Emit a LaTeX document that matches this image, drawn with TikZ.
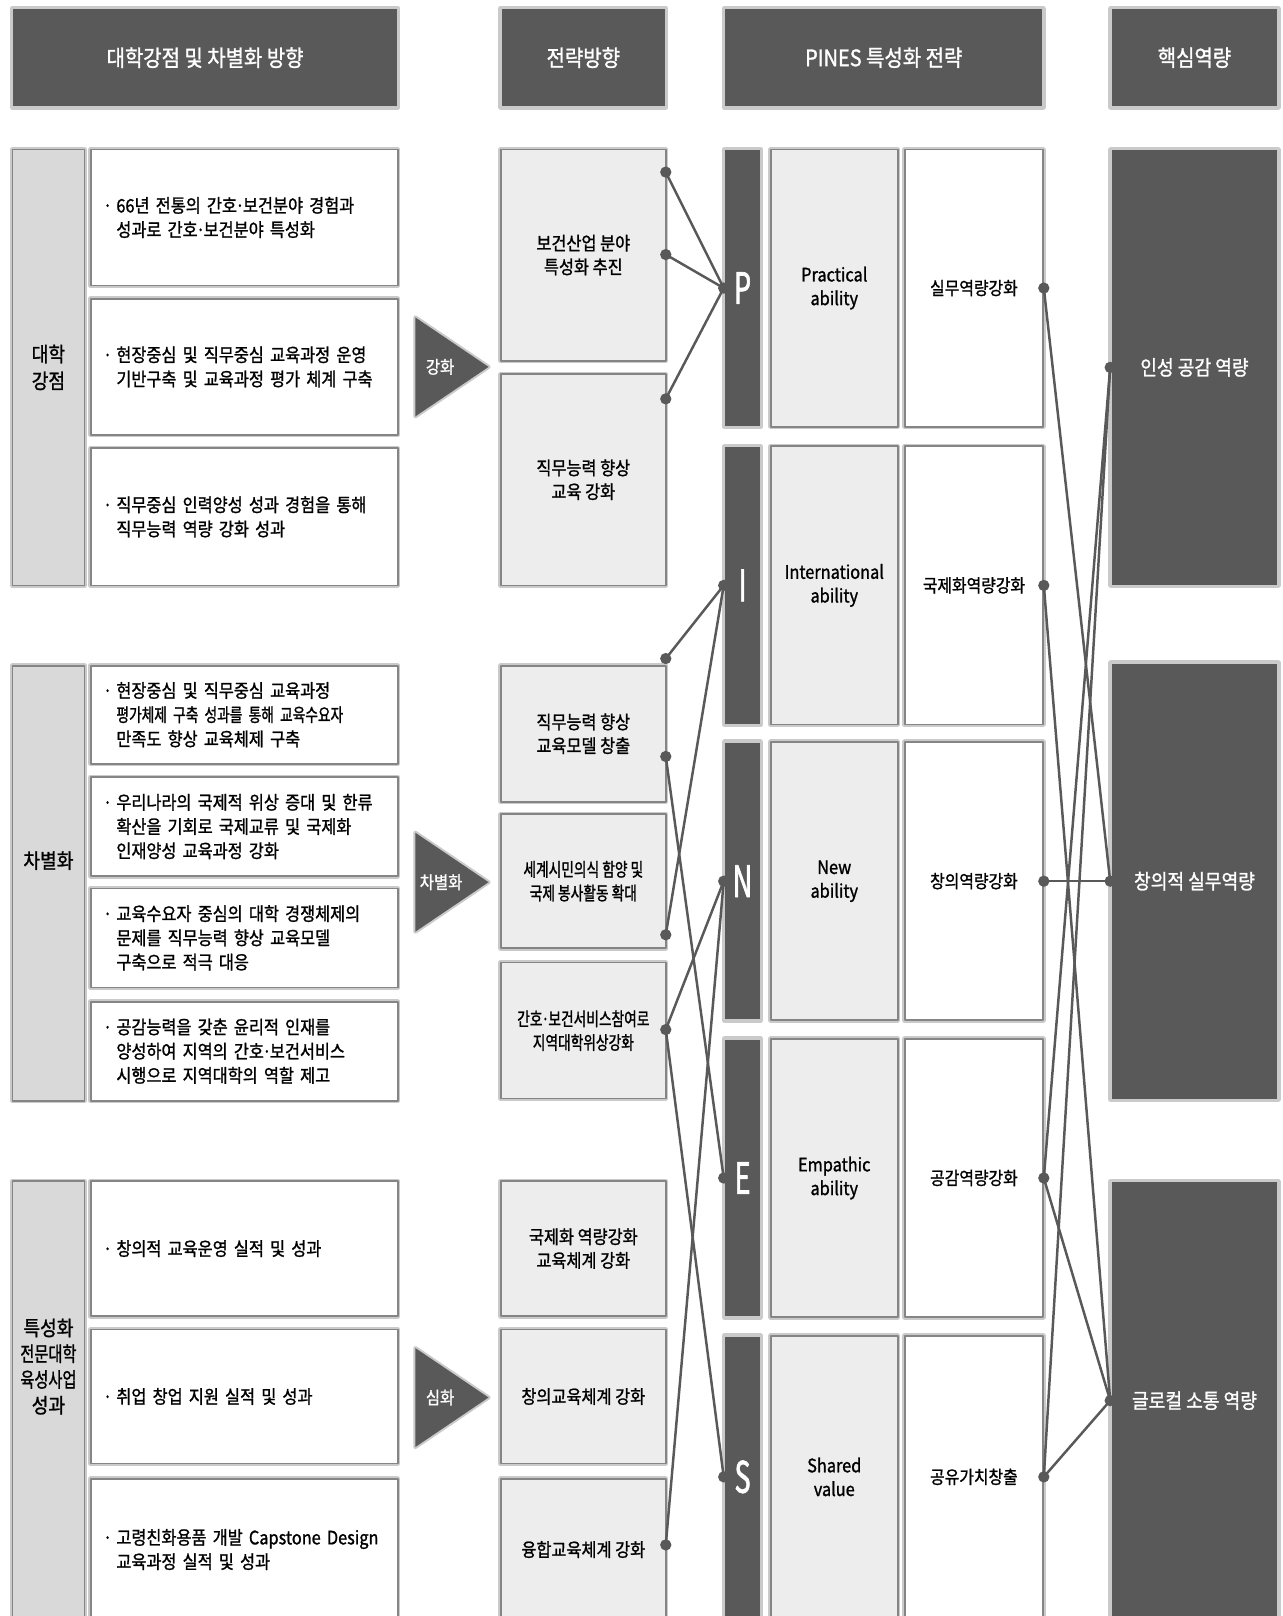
\documentclass[tikz,border=0pt]{standalone}
\usepackage{fontspec}
\newfontfamily\kr[FakeStretch=0.88,FakeBold=1.2]{Noto Sans CJK KR}
\newfontfamily\krn[FakeStretch=0.74,FakeBold=1.2]{Noto Sans CJK KR}
\newfontfamily\krl[FakeStretch=0.62,FakeBold=1.5]{Noto Sans CJK KR}
\definecolor{dark}{HTML}{595959}
\definecolor{pale}{HTML}{EDEDED}
\definecolor{catfill}{HTML}{D9D9D9}
\definecolor{edge}{HTML}{858585}
\definecolor{halo}{HTML}{CACACA}
\newcommand{\bul}{\makebox[0.72em][l]{·}}
\newcommand{\cont}{\hspace*{0.72em}}
\newcommand{\md}{\makebox[0.32em]{·}}

\begin{document}
\begin{tikzpicture}[x=1pt,y=-1pt,line join=round,
  boxline/.style={draw=edge,line width=1.6,preaction={draw=halo,line width=5}},
  hdr/.style={boxline,draw=halo,fill=dark,text=white,minimum height=96,font=\kr\fontsize{22}{26}\selectfont},
  cat/.style={boxline,fill=catfill,minimum width=70,align=center,font=\kr\fontsize{20}{26}\selectfont},
  cattext/.style={align=center,font=\kr\fontsize{20}{25}\selectfont},
  desc/.style={boxline,fill=white,minimum width=298,text width=274,inner xsep=12,align=left,font=\kr\fontsize{18}{23.5}\selectfont},
  strat/.style={boxline,fill=pale,minimum width=160,align=center,font=\kr\fontsize{18}{23}\selectfont},
  squeezed/.style={font=\krn\fontsize{18}{23}\selectfont},
  letter/.style={boxline,draw=halo,fill=dark,text=white,minimum width=35,font=\krl\fontsize{42}{42}\selectfont},
  able/.style={boxline,fill=pale,minimum width=123,align=center,font=\kr\fontsize{18}{23}\selectfont},
  gist/.style={boxline,fill=white,minimum width=134,font=\kr\fontsize{17.5}{22}\selectfont},
  core/.style={boxline,draw=halo,fill=dark,text=white,minimum width=162,font=\kr\fontsize{20}{24}\selectfont},
  wedge/.style={fill=dark,preaction={draw=halo,line width=4}},
  wedgetext/.style={text=white,font=\kr\fontsize{17}{20}\selectfont},
  link/.style={draw=dark,line width=2.4}]
  \useasboundingbox (0,0) rectangle (1244,1568);
  % column heads
  \node[hdr,minimum width=374] (hd1) at (199,56) {대학강점 및 차별화 방향};
  \node[hdr,minimum width=160] (hd2) at (566,56) {전략방향};
  \node[hdr,minimum width=309] (hd3) at (857.5,56) {PINES 특성화 전략};
  \node[hdr,minimum width=162] (hd4) at (1159,56) {핵심역량};
  % left side bars
  \node[cat,minimum height=423] (cat1) at (47,356.5) {대학\\강점};
  \node[cat,minimum height=422,label={[cattext,yshift=22pt]center:차별화}] (cat2) at (47,857) {};
  \node[cat,minimum height=426,label={[cattext,yshift=33pt]center:특성화\\{\krn 전문대학}\\{\krn 육성사업}\\성과}] (cat3) at (47,1359) {};
  % strengths
  \node[desc,minimum height=132] (d1) at (237,211) {\bul 66년 전통의 간호\md 보건분야 경험과\\\cont 성과로 간호\md 보건분야 특성화};
  \node[desc,minimum height=132] (d2) at (237,356) {\bul 현장중심 및 직무중심 교육과정 운영\\\cont 기반구축 및 교육과정 평가 체계 구축};
  \node[desc,minimum height=133] (d3) at (237,501.5) {\bul 직무중심 인력양성 성과 경험을 통해\\\cont 직무능력 역량 강화 성과};
  \node[desc,minimum height=95] (d4) at (237,693.5) {\bul 현장중심 및 직무중심 교육과정\\\cont{\krn 평가체제 구축 성과를 통해 교육수요자}\\\cont 만족도 향상 교육체제 구축};
  \node[desc,minimum height=96] (d5) at (237,802) {\bul 우리나라의 국제적 위상 증대 및 한류\\\cont 확산을 기회로 국제교류 및 국제화\\\cont 인재양성 교육과정 강화};
  \node[desc,minimum height=96] (d6) at (237,910) {\bul 교육수요자 중심의 대학 경쟁체제의\\\cont 문제를 직무능력 향상 교육모델\\\cont 구축으로 적극 대응};
  \node[desc,minimum height=96] (d7) at (237,1020) {\bul 공감능력을 갖춘 윤리적 인재를\\\cont 양성하여 지역의 간호\md 보건서비스\\\cont 시행으로 지역대학의 역할 제고};
  \node[desc,minimum height=131] (d8) at (237,1211.5) {\bul 창의적 교육운영 실적 및 성과};
  \node[desc,minimum height=130] (d9) at (237,1355) {\bul 취업 창업 지원 실적 및 성과};
  \node[desc,minimum height=137] (d10) at (237,1503.5) {\bul 고령친화용품 개발 Capstone Design\\\cont 교육과정 실적 및 성과};
  % wedges
  \fill[wedge] (403,308) -- (474,356) -- (403,404) -- cycle; \node[wedgetext] (w1) at (427,356) {강화};
  \fill[wedge] (403,808) -- (474,856) -- (403,904) -- cycle; \node[wedgetext] (w2) at (428,856) {차별화};
  \fill[wedge] (403,1308) -- (474,1356) -- (403,1404) -- cycle; \node[wedgetext] (w3) at (427,1356) {심화};
  % strategy directions
  \node[strat,minimum height=205] (s1) at (566,247.5) {보건산업 분야\\특성화 추진};
  \node[strat,minimum height=205] (s2) at (566,465.5) {직무능력 향상\\교육 강화};
  \node[strat,minimum height=132] (s3) at (566,712) {직무능력 향상\\교육모델 창출};
  \node[strat,squeezed,minimum height=130] (s4) at (566,855) {세계시민의식 함양 및\\국제 봉사활동 확대};
  \node[strat,squeezed,minimum height=132] (s5) at (566,1000) {간호\md 보건서비스참여로\\지역대학위상강화};
  \node[strat,minimum height=131] (s6) at (566,1211.5) {국제화 역량강화\\교육체계 강화};
  \node[strat,minimum height=130] (s7) at (566,1355) {창의교육체계 강화};
  \node[strat,minimum height=137] (s8) at (566,1503.5) {융합교육체계 강화};
  % PINES rows
  \node[letter,minimum height=269] (P) at (720.5,279.5) {P};
  \node[able,minimum height=269] (aP) at (809.5,279.5) {Practical\\ability};
  \node[gist,minimum height=269] (gP) at (945,279.5) {실무역량강화};
  \node[letter,minimum height=270] (I) at (720.5,568) {I};
  \node[able,minimum height=270] (aI) at (809.5,568) {International\\ability};
  \node[gist,minimum height=270] (gI) at (945,568) {국제화역량강화};
  \node[letter,minimum height=270] (N) at (720.5,855) {N};
  \node[able,minimum height=270] (aN) at (809.5,855) {New\\ability};
  \node[gist,minimum height=270] (gN) at (945,855) {창의역량강화};
  \node[letter,minimum height=270] (E) at (720.5,1143) {E};
  \node[able,minimum height=270] (aE) at (809.5,1143) {Empathic\\ability};
  \node[gist,minimum height=270] (gE) at (945,1143) {공감역량강화};
  \node[letter,minimum height=274] (S) at (720.5,1433) {S};
  \node[able,minimum height=274] (aS) at (809.5,1433) {Shared\\value};
  \node[gist,minimum height=274] (gS) at (945,1433) {공유가치창출};
  % core competencies
  \node[core,minimum height=423] (core1) at (1159,356.5) {인성 공감 역량};
  \node[core,minimum height=424] (core2) at (1159,855) {창의적 실무역량};
  \node[core,minimum height=426] (core3) at (1159,1359) {글로컬 소통 역량};
  % link ends on the strategy boxes
  \coordinate (s1a) at (646,167); \coordinate (s1b) at (646,247); \coordinate (s2a) at (646,387);
  \coordinate (s3a) at (646,639); \coordinate (s3b) at (646,734); \coordinate (s4a) at (646,907);
  \coordinate (s5a) at (646,999); \coordinate (s8a) at (646,1499);
  % links
  \draw[link] (s1a) -- (P.west); \draw[link] (s1b) -- (P.west); \draw[link] (s2a) -- (P.west);
  \draw[link] (s3a) -- (I.west); \draw[link] (s4a) -- (I.west);
  \draw[link] (s5a) -- (N.west); \draw[link] (s8a) -- (N.west);
  \draw[link] (s3b) -- (E.west); \draw[link] (s5a) -- (S.west);
  \draw[link] (gP.east) -- (core2.west); \draw[link] (gI.east) -- (core3.west); \draw[link] (gN.east) -- (core2.west);
  \draw[link] (gE.east) -- (core1.west); \draw[link] (gE.east) -- (core3.west);
  \draw[link] (gS.east) -- (core1.west); \draw[link] (gS.east) -- (core3.west);
  \foreach \p in {s1a,s1b,s2a,s3a,s3b,s4a,s5a,s8a,P.west,I.west,N.west,E.west,S.west,gP.east,gI.east,gN.east,gE.east,gS.east,core1.west,core2.west,core3.west}
    \fill[dark] (\p) circle (5.5);
\end{tikzpicture}
\end{document}
